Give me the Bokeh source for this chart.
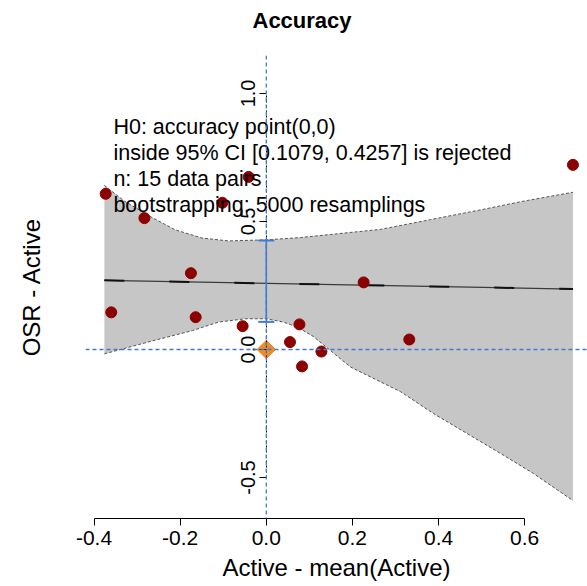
from bokeh.plotting import figure
from bokeh.embed import file_html
from bokeh.resources import INLINE
from bokeh.core.properties import value
from bokeh.models import (LinearAxis, FixedTicker, Span, Whisker, TeeHead,
                          ColumnDataSource, Title, Range1d)

# ---- data ----
pts_x = [-0.373, -0.360, -0.283, -0.175, -0.164, -0.102, -0.055, -0.041,
         0.055, 0.077, 0.083, 0.128, 0.226, 0.332, 0.712]
pts_y = [0.608, 0.145, 0.513, 0.298, 0.126, 0.573, 0.091, 0.674,
         0.029, 0.098, -0.066, -0.008, 0.262, 0.039, 0.721]

band_up_x = [-0.376, -0.33, -0.265, -0.211, -0.149, -0.088, 0.0, 0.079,
             0.149, 0.265, 0.381, 0.497, 0.600, 0.712]
band_up_y = [0.641, 0.580, 0.515, 0.467, 0.435, 0.424, 0.428, 0.437,
             0.449, 0.469, 0.507, 0.545, 0.580, 0.614]
band_lo_x = [-0.376, -0.27, -0.171, -0.111, -0.048, 0.0, 0.04, 0.075, 0.11,
             0.13, 0.196, 0.312, 0.388, 0.466, 0.544, 0.62, 0.712]
band_lo_y = [-0.017, 0.031, 0.074, 0.107, 0.120, 0.120, 0.107, 0.085, 0.05,
             0.022, -0.069, -0.165, -0.25, -0.328, -0.406, -0.484, -0.590]

fit_x = [-0.376, 0.712]
fit_y = [0.270, 0.236]

ci_low, ci_high = 0.1079, 0.4257
h0_x, h0_y = [0.0], [0.0]

x_ticks = [-0.4, -0.2, 0.0, 0.2, 0.4, 0.6]
x_tick_labels = ["-0.4", "-0.2", "0.0", "0.2", "0.4", "0.6"]
y_ticks = [-0.5, 0.0, 0.5, 1.0]
y_tick_labels = ["-0.5", "0.0", "0.5", "1.0"]

title_text = "Accuracy"
x_title = "Active - mean(Active)"
y_title = "OSR - Active"
annot_lines = ["H0: accuracy point(0,0)",
               "inside 95% CI [0.1079, 0.4257] is rejected",
               "n: 15 data pairs",
               "bootstrapping: 5000 resamplings"]

FONT = "Liberation Sans"
BLUE = "#3F7BD0"

p = figure(width=587, height=586,
           x_range=Range1d(-0.4198, 0.7458), y_range=Range1d(-0.660, 1.148),
           output_backend="svg", toolbar_location=None, y_axis_location=None,
           title_location=None,
           min_border_left=85, min_border_right=0, min_border_top=55,
           min_border_bottom=68)
p.outline_line_color = None
p.grid.visible = False

# x axis
xa = p.xaxis[0]
xa.ticker = FixedTicker(ticks=x_ticks)
xa.major_label_overrides = {t: l for t, l in zip(x_ticks, x_tick_labels)}
xa.bounds = (x_ticks[0], x_ticks[-1])
xa.minor_tick_line_color = None
xa.major_tick_in = 0
xa.major_tick_out = 7
xa.major_label_text_font = FONT
xa.major_label_text_font_size = "21px"
xa.major_label_text_color = "black"
xa.major_label_standoff = 5
xa.axis_label = x_title
xa.axis_label_text_font = FONT
xa.axis_label_text_font_size = "24px"
xa.axis_label_text_font_style = "normal"
xa.axis_label_text_color = "black"
xa.axis_label_standoff = 6
xa.axis_line_color = "black"
xa.major_tick_line_color = "black"

# y axis drawn at x = 0
ya = LinearAxis(fixed_location=0, ticker=FixedTicker(ticks=y_ticks),
                bounds=(y_ticks[0], y_ticks[-1]))
ya.major_label_overrides = {t: l for t, l in zip(y_ticks, y_tick_labels)}
ya.minor_tick_line_color = None
ya.major_tick_in = 0
ya.major_tick_out = 7
ya.major_label_orientation = "vertical"
ya.major_label_text_font = FONT
ya.major_label_text_font_size = "20px"
ya.major_label_text_color = "black"
ya.major_label_standoff = 4
ya.axis_line_color = "black"
ya.axis_line_dash = "2 3"
p.add_layout(ya, "left")

# titles (a blank spacer title sits between each title and the frame)
p.add_layout(Title(text=" ", text_font_size="8px", standoff=12), "above")
p.add_layout(Title(text=title_text, align="left", offset=167, standoff=0,
                   text_font=FONT, text_font_size="22px",
                   text_font_style="bold", text_color="black"), "above")
p.add_layout(Title(text=" ", text_font_size="8px", standoff=30), "left")
p.add_layout(Title(text=y_title, align="center", standoff=0, text_font=FONT,
                   text_font_size="24px", text_font_style="normal",
                   text_color="black"), "left")

# confidence band
poly_x = band_up_x + band_lo_x[::-1]
poly_y = band_up_y + band_lo_y[::-1]
p.patch(poly_x, poly_y, fill_color="#C6C6C6", line_color=None)
p.line(band_up_x, band_up_y, line_color="#555555", line_dash="3 2", line_width=1)
p.line(band_lo_x, band_lo_y, line_color="#555555", line_dash="3 2", line_width=1)

# fitted line
p.line(fit_x, fit_y, line_color="#3a3a3a", line_width=1.2)
p.line(fit_x, fit_y, line_color="#111111", line_width=2, line_dash="20 45")

# reference lines
p.add_layout(Span(location=0, dimension="height", line_color=BLUE,
                  line_dash="4 3", line_width=1.3))
p.add_layout(Span(location=0, dimension="width", line_color=BLUE,
                  line_dash="4 3", line_width=1.3))

# CI whisker
ci_src = ColumnDataSource(dict(base=[0.0], lower=[ci_low], upper=[ci_high]))
p.add_layout(Whisker(source=ci_src, base="base", lower="lower", upper="upper",
                     dimension="height", line_color=BLUE, line_width=1.6,
                     level="overlay",
                     upper_head=TeeHead(size=16, line_color=BLUE, line_width=2),
                     lower_head=TeeHead(size=16, line_color=BLUE, line_width=2)))

# points
p.scatter(pts_x, pts_y, size=11, fill_color="#8B0000", line_color="#8B0000")
p.scatter(h0_x, h0_y, marker="square", angle=0.785398, size=13,
          fill_color="#F08A24", line_color="#F08A24")

# annotation text
tx = [-0.355] * len(annot_lines)
ty = [0.867 - i * 0.1008 for i in range(len(annot_lines))]
p.text(tx, ty, text=annot_lines, text_font=value(FONT), text_font_size="21.5px",
       text_color="black", text_baseline="alphabetic", text_align="left")

open("out.html", "w").write(file_html(p, INLINE))
